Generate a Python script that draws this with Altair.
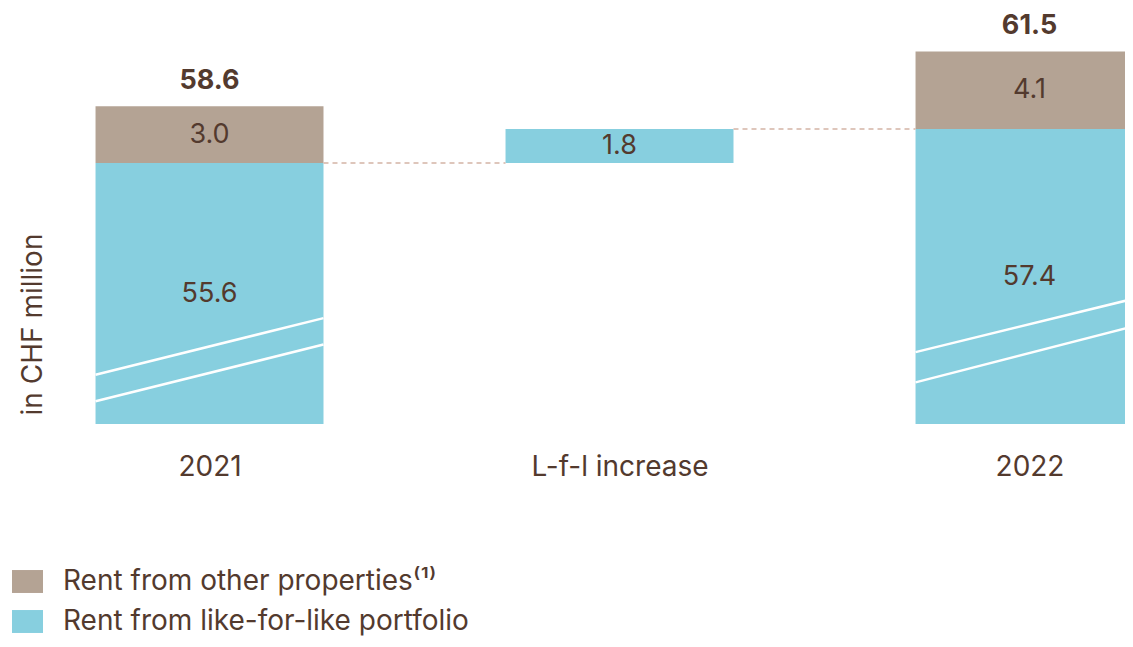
import json
import altair as alt
import pandas as pd

# ---------------- data ----------------
categories = ["2021", "L-f-l increase", "2022"]
lfl_values = [55.6, 1.8, 57.4]          # like-for-like portfolio (blue)
other_values = [3.0, None, 4.1]         # other properties (brown)
totals = [58.6, None, 61.5]
series_names = ["Rent from other properties⁽¹⁾", "Rent from like-for-like portfolio"]
series_colors = ["#B4A394", "#87CFDF"]

# broken value axis
y_start = 41.8
y_end = 63.8
# axis-break markers drawn across the full bars (value at left edge, value at right edge)
break_upper = [[44.4, 47.4], None, [45.6, 48.55]]
break_lower = [[43.0, 46.0], None, [44.0, 47.1]]

TEXT = "#533A2E"
FONT = "Inter"
HALF = 0.278  # half bar width in category units

# ---------------- tables ----------------
seg_rows, lbl_rows, tot_rows, conn_rows, brk_rows = [], [], [], [], []
running = 0.0
for i, cat in enumerate(categories):
    if cat == "L-f-l increase":
        base = running
        top = base + lfl_values[i]
    else:
        base = 0.0
        top = lfl_values[i]
    seg_rows.append(dict(i=i, x0=i - HALF, x1=i + HALF, y0=base, y1=top, s=series_names[1]))
    lbl_rows.append(dict(i=i, y=(max(base, y_start) + top) / 2, t=f"{lfl_values[i]:.1f}"))
    if other_values[i] is not None:
        seg_rows.append(dict(i=i, x0=i - HALF, x1=i + HALF, y0=top, y1=top + other_values[i], s=series_names[0]))
        lbl_rows.append(dict(i=i, y=top + other_values[i] / 2, t=f"{other_values[i]:.1f}"))
    if totals[i] is not None:
        tot_rows.append(dict(i=i, y=totals[i], t=f"{totals[i]:.1f}"))
    if i > 0:
        conn_rows.append(dict(x0=i - 1 + HALF, x1=i - HALF, y=running))
    running = top
    for b in (break_upper[i], break_lower[i]):
        if b is not None:
            brk_rows.append(dict(x0=i - HALF, x1=i + HALF, y0=b[0], y1=b[1]))

seg = pd.DataFrame(seg_rows)
lbl = pd.DataFrame(lbl_rows)
tot = pd.DataFrame(tot_rows)
conn = pd.DataFrame(conn_rows)
brk = pd.DataFrame(brk_rows)

label_expr = json.dumps(categories) + "[datum.value]"
xscale = alt.Scale(domain=[-0.4915, 2.2329], nice=False, zero=False)
yscale = alt.Scale(domain=[y_start, y_end], nice=False, zero=False)

x_axis = alt.Axis(values=[0, 1, 2], labelExpr=label_expr, title=None, domain=False, ticks=False,
                  grid=False, labelFontSize=28, labelColor=TEXT, labelFont=FONT, labelPadding=29,
                  labelFlush=False, labelOverlap=False)
y_axis = alt.Axis(labels=False, ticks=False, domain=False, grid=False, title="in CHF million",
                  titleX=25, titleY=316, titleAngle=270, titleAlign="center", titleBaseline="middle",
                  titleFontSize=28, titleFontWeight="normal", titleColor=TEXT, titleFont=FONT)

bars = alt.Chart(seg).mark_bar(clip=True, strokeWidth=0).encode(
    x=alt.X("x0:Q", scale=xscale, axis=x_axis),
    x2="x1:Q",
    y=alt.Y("y0:Q", scale=yscale, axis=y_axis),
    y2="y1:Q",
    color=alt.Color("s:N", scale=alt.Scale(domain=series_names, range=series_colors),
                    legend=alt.Legend(title=None, orient="none", legendX=4, legendY=558,
                                      direction="vertical",
                                      symbolType="M-1,-0.74H1V0.74H-1Z", symbolSize=961,
                                      symbolStrokeWidth=0, symbolOpacity=1,
                                      labelFontSize=28, labelColor=TEXT, labelFont=FONT,
                                      labelOffset=20, rowPadding=10, labelLimit=700)),
)

breaks = alt.Chart(brk).mark_rule(color="white", strokeWidth=2.5, clip=True).encode(
    x=alt.X("x0:Q", scale=xscale), x2="x1:Q",
    y=alt.Y("y0:Q", scale=yscale), y2="y1:Q",
)

connectors = alt.Chart(conn).mark_rule(color="#D4B4A5", strokeWidth=1.5, strokeDash=[5, 4]).encode(
    x=alt.X("x0:Q", scale=xscale), x2="x1:Q",
    y=alt.Y("y:Q", scale=yscale),
)

labels = alt.Chart(lbl).mark_text(fontSize=27, color=TEXT, font=FONT, baseline="middle").encode(
    x=alt.X("i:Q", scale=xscale), y=alt.Y("y:Q", scale=yscale), text="t:N",
)

total_labels = alt.Chart(tot).mark_text(fontSize=27, color=TEXT, font=FONT, fontWeight="bold",
                                        baseline="middle", dy=-25).encode(
    x=alt.X("i:Q", scale=xscale), y=alt.Y("y:Q", scale=yscale), text="t:N",
)

chart = alt.layer(bars, connectors, breaks, labels, total_labels).properties(
    width=1117, height=416,
    autosize=alt.AutoSizeParams(type="none"),
    padding={"left": 0, "top": 0, "right": 0, "bottom": 215},
    background="white",
).configure_view(strokeWidth=0)

chart.save("out.html", embed_options={"renderer": "svg", "actions": False})
